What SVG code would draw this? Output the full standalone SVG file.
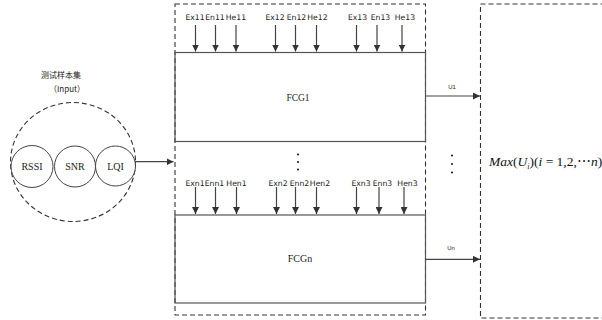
<svg xmlns="http://www.w3.org/2000/svg" width="602" height="320" viewBox="0 0 602 320">
<style>
.dash{fill:none;stroke:#333;stroke-width:1.1;stroke-dasharray:5,3}
.box{fill:none;stroke:#555;stroke-width:1.2}
.ln{fill:none;stroke:#444;stroke-width:1.2}
.circ{fill:#fff;stroke:#444;stroke-width:1}
.lab{font-family:"DejaVu Sans",sans-serif;font-size:7.7px;fill:#222;text-anchor:middle}
.ser{font-family:"Liberation Serif",serif;fill:#222;text-anchor:middle}
.sm{font-family:"Liberation Sans",sans-serif;font-size:6px;fill:#222;text-anchor:middle}
.cjk{font-family:"Noto Sans CJK SC",sans-serif;font-size:8px;fill:#222;text-anchor:middle}
</style>
<defs>
<marker id="ah" viewBox="0 0 10 10" refX="10" refY="5" markerWidth="7" markerHeight="7" markerUnits="userSpaceOnUse" orient="auto">
<path d="M0,0 L10,5 L0,10 z" fill="#333"/>
</marker>
</defs>
<rect width="602" height="320" fill="#fff"/>

<g id="input">
<text x="61" y="78" class="cjk">测试样本集</text>
<text x="67" y="92" class="cjk">（Input）</text>
<ellipse cx="73" cy="162" rx="62.5" ry="59.5" class="dash"/>
<circle cx="32" cy="166.5" r="21" class="circ"/>
<text x="32" y="170" class="ser" font-size="10">RSSI</text>
<circle cx="75" cy="166.5" r="20.5" class="circ"/>
<text x="75" y="170" class="ser" font-size="10">SNR</text>
<circle cx="115.5" cy="166" r="20" class="circ"/>
<text x="115.5" y="170" class="ser" font-size="10">LQI</text>
</g>

<g id="fcg-group">
<rect x="175" y="4" width="250.5" height="311" class="dash"/>
</g>

<g id="fcg1">
<rect x="175" y="52.5" width="250.5" height="89" class="box"/>
<text x="298" y="101" class="ser" font-size="9.5">FCG1</text>
<text x="195" y="20" class="lab">Ex11</text>
<text x="215" y="20" class="lab">En11</text>
<text x="236" y="20" class="lab">He11</text>
<text x="275" y="20" class="lab">Ex12</text>
<text x="296.5" y="20" class="lab">En12</text>
<text x="317.5" y="20" class="lab">He12</text>
<text x="357.5" y="20" class="lab">Ex13</text>
<text x="380.5" y="20" class="lab">En13</text>
<text x="405" y="20" class="lab">He13</text>
</g>

<g id="dots-mid">
<circle cx="298" cy="154.5" r="1.1" fill="#222"/>
<circle cx="298" cy="162" r="1.1" fill="#222"/>
<circle cx="298" cy="169.5" r="1.1" fill="#222"/>
</g>

<g id="fcgn">
<rect x="175" y="215" width="250.5" height="88" class="box"/>
<text x="300" y="261.5" class="ser" font-size="10">FCGn</text>
<text x="195" y="186" class="lab">Exn1</text>
<text x="214.5" y="186" class="lab">Enn1</text>
<text x="236.5" y="186" class="lab">Hen1</text>
<text x="278" y="186" class="lab">Exn2</text>
<text x="299.5" y="186" class="lab">Enn2</text>
<text x="320" y="186" class="lab">Hen2</text>
<text x="361" y="186" class="lab">Exn3</text>
<text x="382.5" y="186" class="lab">Enn3</text>
<text x="407.5" y="186" class="lab">Hen3</text>
</g>

<g id="output">
<rect x="480.5" y="4" width="130" height="314" class="dash"/>
<circle cx="452" cy="155.5" r="1.1" fill="#222"/>
<circle cx="452" cy="164" r="1.1" fill="#222"/>
<circle cx="452" cy="172.5" r="1.1" fill="#222"/>
<text x="489" y="166" font-family="Liberation Serif,serif" font-size="13.5" fill="#111"><tspan font-style="italic">Max</tspan>(<tspan font-style="italic">U</tspan><tspan font-style="italic" font-size="8" dy="3">i</tspan><tspan dy="-3">)(</tspan><tspan font-style="italic">i</tspan> = 1,2,⋯<tspan font-style="italic">n</tspan>)</text>
</g>

<g id="connectors">
<line x1="135" y1="161.7" x2="173.5" y2="161.7" class="ln" marker-end="url(#ah)"/>
<line x1="195.5" y1="25" x2="195.5" y2="51.5" class="ln" marker-end="url(#ah)"/>
<line x1="215.5" y1="25" x2="215.5" y2="51.5" class="ln" marker-end="url(#ah)"/>
<line x1="236" y1="25" x2="236" y2="51.5" class="ln" marker-end="url(#ah)"/>
<line x1="275.5" y1="25" x2="275.5" y2="51.5" class="ln" marker-end="url(#ah)"/>
<line x1="295.5" y1="25" x2="295.5" y2="51.5" class="ln" marker-end="url(#ah)"/>
<line x1="316.5" y1="25" x2="316.5" y2="51.5" class="ln" marker-end="url(#ah)"/>
<line x1="356.5" y1="25" x2="356.5" y2="51.5" class="ln" marker-end="url(#ah)"/>
<line x1="377" y1="25" x2="377" y2="51.5" class="ln" marker-end="url(#ah)"/>
<line x1="402" y1="25" x2="402" y2="51.5" class="ln" marker-end="url(#ah)"/>
<line x1="195.5" y1="187" x2="195.5" y2="214" class="ln" marker-end="url(#ah)"/>
<line x1="215.5" y1="187" x2="215.5" y2="214" class="ln" marker-end="url(#ah)"/>
<line x1="236.5" y1="187" x2="236.5" y2="214" class="ln" marker-end="url(#ah)"/>
<line x1="276.5" y1="187" x2="276.5" y2="214" class="ln" marker-end="url(#ah)"/>
<line x1="295.5" y1="187" x2="295.5" y2="214" class="ln" marker-end="url(#ah)"/>
<line x1="316.5" y1="187" x2="316.5" y2="214" class="ln" marker-end="url(#ah)"/>
<line x1="356.5" y1="187" x2="356.5" y2="214" class="ln" marker-end="url(#ah)"/>
<line x1="379" y1="187" x2="379" y2="214" class="ln" marker-end="url(#ah)"/>
<line x1="404" y1="187" x2="404" y2="214" class="ln" marker-end="url(#ah)"/>
<line x1="425.5" y1="96" x2="480" y2="96" class="ln" marker-end="url(#ah)"/>
<text x="452" y="88.5" class="sm">U1</text>
<line x1="425.5" y1="259.3" x2="480" y2="259.3" class="ln" marker-end="url(#ah)"/>
<text x="451" y="250" class="sm">Un</text>
</g>
</svg>
